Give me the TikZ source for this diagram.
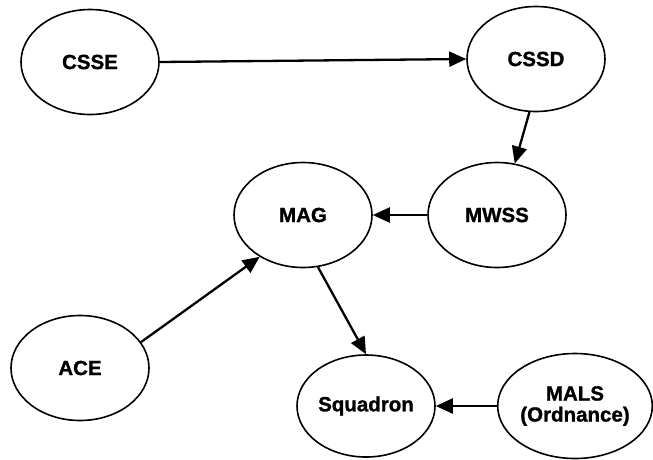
\documentclass[tikz,border=0pt]{standalone}
\usepackage{fontspec}
\setmainfont{Liberation Sans}
\newfontfamily\heavyfont[FakeBold=1.2]{Liberation Sans Bold}
\usetikzlibrary{shapes.geometric,arrows.meta}
\begin{document}
\begin{tikzpicture}[x=1pt,y=-1pt,
  bubble/.style={ellipse, draw, line width=1.6pt, minimum width=138pt, minimum height=105pt, inner sep=0pt,
    font=\fontsize{20.5}{21}\heavyfont, align=center},
  link/.style={line width=2.3pt, -{Triangle[length=17pt,width=15pt]}}]
\useasboundingbox (0,0) rectangle (653,459);
\node[bubble] (csse) at (90,62) {CSSE};
\node[bubble] (cssd) at (536,59) {CSSD};
\node[bubble] (mwss) at (497,215) {MWSS};
\node[bubble] (mag) at (303,215) {MAG};
\node[bubble] (ace) at (80,368) {ACE};
\node[bubble, minimum height=102pt] (sq) at (366,406) {Squadron};
\node[bubble, minimum width=135pt] (mals) at (575,406) {MALS\\(Ordnance)};
\draw[link] (csse.east) -- (cssd.west);
\draw[link] (cssd.-97) -- (mwss.71);
\draw[link] (mwss.west) -- (mag.east);
\draw[link] (ace.23) -- (mag.-136);
\draw[link] (mag.-74) -- (sq.north);
\draw[link] (mals.west) -- (sq.east);
\end{tikzpicture}
\end{document}
